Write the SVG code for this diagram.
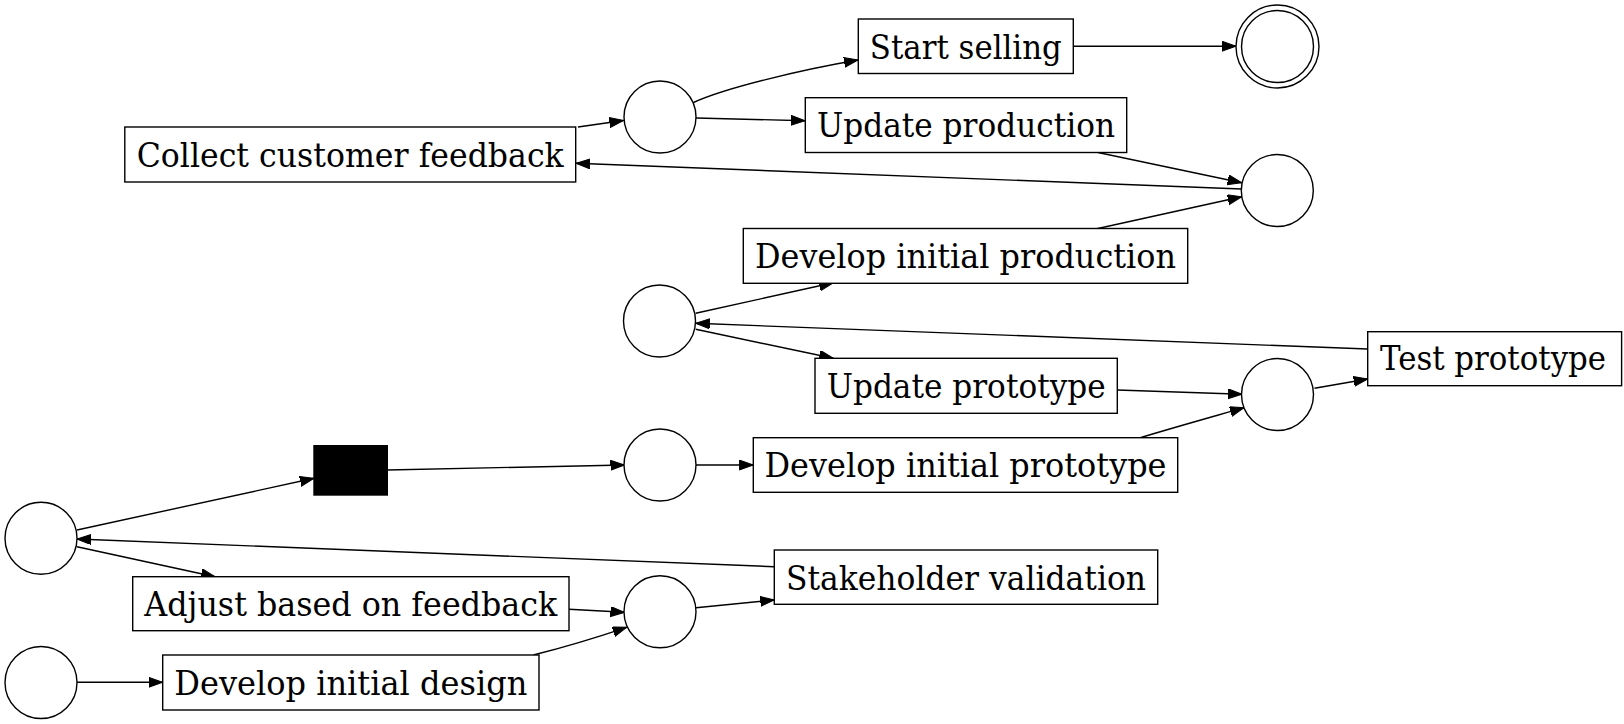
<svg xmlns="http://www.w3.org/2000/svg" width="1624" height="724" viewBox="0 0 1624 724">
<style>
.box{fill:#fff;stroke:#000;stroke-width:1.4}
.place{fill:#fff;stroke:#000;stroke-width:1.4}
.lbl{font-family:'DejaVu Serif','Liberation Serif','Noto Serif',serif;font-size:34px;fill:#000;text-anchor:middle}
.edge{fill:none;stroke:#000;stroke-width:1.4;marker-end:url(#arr)}
</style>
<defs>
<marker id="arr" markerUnits="userSpaceOnUse" markerWidth="16" markerHeight="12" refX="14" refY="5" orient="auto">
<path d="M0,0 L14,5 L0,10 z" fill="#000" stroke="#000" stroke-width="1"/>
</marker>
</defs>
<rect width="1624" height="724" fill="#fff"/>
<g id="connectors">
<path class="edge" d="M578,127 L623.5,120.5"/>
<path class="edge" d="M693.5,102.5 C725,88 800,70 858,60"/>
<path class="edge" d="M696,118 L805,120.7"/>
<path class="edge" d="M1073.3,46.2 L1236,46.2"/>
<path class="edge" d="M1098,152.5 L1241.7,182.7"/>
<path class="edge" d="M1241.5,189 L576,163.3"/>
<path class="edge" d="M1096.7,228.7 L1241.7,196.7"/>
<path class="edge" d="M695.7,313.3 L833.3,282.7"/>
<path class="edge" d="M695.7,329.3 L833.3,358.3"/>
<path class="edge" d="M1367.7,349 L695.7,323.3"/>
<path class="edge" d="M1117.5,390 L1242,394.3"/>
<path class="edge" d="M1141,437.5 C1172,428 1208,418 1244,407.7"/>
<path class="edge" d="M1314.5,388.3 L1367.7,379"/>
<path class="edge" d="M77,530 L314,478.3"/>
<path class="edge" d="M387.3,470 L624.5,465"/>
<path class="edge" d="M696,465 L753.3,465"/>
<path class="edge" d="M77,546.7 L215,576.7"/>
<path class="edge" d="M774.3,566.7 L77,539"/>
<path class="edge" d="M569,609.3 L624.5,612.3"/>
<path class="edge" d="M696,607.7 L774.3,600"/>
<path class="edge" d="M77,682.3 L162.7,682.3"/>
<path class="edge" d="M533.3,655 C565,647 595,638 626.7,627.3"/>
</g>
<g id="start_selling"><rect class="box" x="858.3" y="19" width="215" height="54.5"/><text class="lbl" x="965.8" y="58.5" textLength="192" lengthAdjust="spacingAndGlyphs">Start selling</text></g>
<g id="update_production"><rect class="box" x="805.3" y="97.7" width="321.4" height="54.8"/><text class="lbl" x="966" y="137.3" textLength="298" lengthAdjust="spacingAndGlyphs">Update production</text></g>
<g id="collect_feedback"><rect class="box" x="124.8" y="127" width="450.9" height="55"/><text class="lbl" x="350.2" y="166.5" textLength="427" lengthAdjust="spacingAndGlyphs">Collect customer feedback</text></g>
<g id="develop_initial_production"><rect class="box" x="743.3" y="228.5" width="444.4" height="54.8"/><text class="lbl" x="965.5" y="268" textLength="421" lengthAdjust="spacingAndGlyphs">Develop initial production</text></g>
<g id="update_prototype"><rect class="box" x="815" y="358.3" width="302.3" height="55"/><text class="lbl" x="966.2" y="398" textLength="279" lengthAdjust="spacingAndGlyphs">Update prototype</text></g>
<g id="test_prototype"><rect class="box" x="1367.7" y="331.7" width="253.9" height="54"/><text class="lbl" x="1493" y="370" font-size="29" textLength="226" lengthAdjust="spacingAndGlyphs">Test prototype</text></g>
<g id="develop_initial_prototype"><rect class="box" x="753.3" y="437.7" width="424.4" height="54.6"/><text class="lbl" x="965.5" y="477.3" textLength="402" lengthAdjust="spacingAndGlyphs">Develop initial prototype</text></g>
<g id="stakeholder_validation"><rect class="box" x="774.3" y="550" width="383.4" height="54.3"/><text class="lbl" x="966" y="589.5" textLength="360" lengthAdjust="spacingAndGlyphs">Stakeholder validation</text></g>
<g id="adjust_feedback"><rect class="box" x="132.7" y="576.7" width="436.3" height="54"/><text class="lbl" x="350.8" y="616" textLength="413" lengthAdjust="spacingAndGlyphs">Adjust based on feedback</text></g>
<g id="develop_initial_design"><rect class="box" x="162.7" y="655" width="376.3" height="55"/><text class="lbl" x="350.8" y="694.8" textLength="353" lengthAdjust="spacingAndGlyphs">Develop initial design</text></g>
<g id="silent_transition"><rect x="314" y="445.7" width="73.3" height="49.3" fill="#000" stroke="#000" stroke-width="1.4"/></g>
<g id="place_a"><circle class="place" cx="660" cy="117" r="36"/></g>
<g id="place_b"><circle class="place" cx="1277.3" cy="190.5" r="36"/></g>
<g id="place_c"><circle class="place" cx="659.5" cy="321" r="36"/></g>
<g id="place_d"><circle class="place" cx="1277.5" cy="394.5" r="36"/></g>
<g id="place_e"><circle class="place" cx="41" cy="538.3" r="36"/></g>
<g id="place_f"><circle class="place" cx="660" cy="465" r="36"/></g>
<g id="place_g"><circle class="place" cx="660" cy="611.7" r="36"/></g>
<g id="place_h"><circle class="place" cx="41" cy="682.5" r="36"/></g>
<g id="place_final"><circle class="place" cx="1277.5" cy="46.5" r="41.5"/><circle class="place" cx="1277.5" cy="46.5" r="36"/></g>
</svg>
